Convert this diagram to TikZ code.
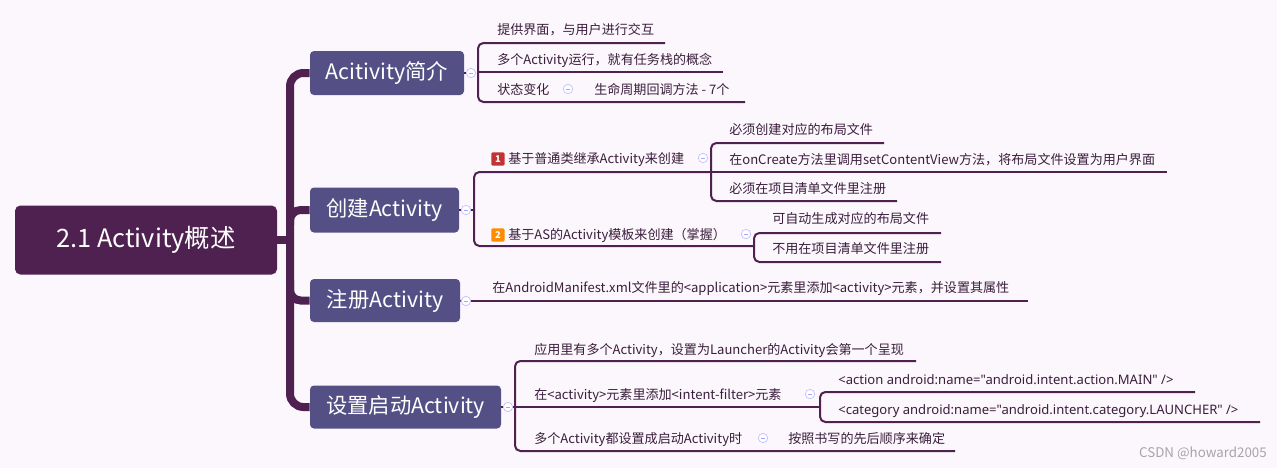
\documentclass[tikz,border=0pt]{standalone}
\usepackage{fontspec}
\setmainfont{Noto Sans CJK SC}
\newfontfamily\lat{Noto Sans}
\definecolor{bg}{HTML}{FCF7FC}
\definecolor{rootc}{HTML}{4F2150}
\definecolor{boxc}{HTML}{545086}
\definecolor{linec}{HTML}{4F2150}
\definecolor{txt}{HTML}{3A1E3C}
\begin{document}
\begin{tikzpicture}[x=0.75pt,y=-0.75pt,
  rootbox/.style={fill=rootc,rounded corners=4pt,text=white,font=\fontsize{19}{21}\selectfont,inner sep=0pt},
  mainbox/.style={fill=boxc,rounded corners=3pt,text=white,font=\fontsize{16}{18}\selectfont,inner sep=0pt},
  leaf/.style={anchor=base west,text=txt,font=\fontsize{9.8}{11}\selectfont,inner sep=0pt},
  sub/.style={draw=linec,line width=1.5pt,rounded corners=4pt},
  trunk/.style={draw=rootc,line width=6pt,rounded corners=10pt},
  tog/.style={circle,draw=blue!25,fill=white,line width=0.5pt,minimum size=7pt,inner sep=0pt,
    path picture={\draw[blue!35,line width=0.5pt] ([xshift=-1.8pt]path picture bounding box.center)--([xshift=1.8pt]path picture bounding box.center);}},
  badge/.style={rounded corners=1pt,text=white,font=\bfseries\fontsize{7}{8}\selectfont,minimum size=10pt,inner sep=0pt,anchor=west}]
\fill[bg] (0,0) rectangle (1277,468);
\useasboundingbox (0,0) rectangle (1277,468);
% root and main boxes
\node[rootbox,minimum width=262*0.75pt,minimum height=69*0.75pt] (root) at (146,240) {2.1 Activity概述};
\node[mainbox,minimum width=154*0.75pt,minimum height=44*0.75pt] (b1) at (387,73) {Acitivity简介};
\node[mainbox,minimum width=149*0.75pt,minimum height=45*0.75pt] (b2) at (384.5,210) {创建Activity};
\node[mainbox,minimum width=150*0.75pt,minimum height=43*0.75pt] (b3) at (385,300.5) {注册Activity};
\node[mainbox,minimum width=191*0.75pt,minimum height=43*0.75pt] (b4) at (405.5,407) {设置启动Activity};
% trunk
\draw[trunk] (b1.west) -- (290,73) -- (290,407) -- (b4.west);
\draw[rootc,line width=6pt] (root.east) -- (290,240);
\draw[rootc,line width=6pt,rounded corners=8pt] (290,225) |- (b2.west);
\draw[rootc,line width=6pt,rounded corners=8pt] (290,280) |- (b3.west);
% branch 1
\node[tog] (t1) at (471,73) {};
\draw[linec,line width=1.5pt] (b1.east) -- (t1);
\draw[sub] (665,43) -- (478,43) -- (478,102) -- (745,102);
\draw[sub] (478,72) -- (723,72);
\node[leaf] (l11) at (497,34) {提供界面，与用户进行交互};
\node[leaf] (l12) at (497,64) {多个Activity运行，就有任务栈的概念};
\node[leaf] (l13) at (497,94) {状态变化};
\node[tog] (t13) at (568,89) {};
\node[leaf] (l131) at (594,94) {生命周期回调方法 - 7个};
% branch 2
\node[tog] (t2) at (466,210) {};
\draw[linec,line width=1.5pt] (b2.east) -- (t2);
\draw[sub] (711,172) -- (474,172) -- (474,246) -- (754,246);
\draw[linec,line width=1.5pt] (t2) -- (474,210);
\node[badge,fill=red!70!black!80] (bd1) at (491,159) {1};
\node[leaf] (l21) at (508,163.5) {基于普通类继承Activity来创建};
\node[tog] (t21) at (703,158) {};
\draw[sub] (884,143) -- (711,143) -- (711,201) -- (897,201);
\draw[sub] (711,172) -- (1167,172);
\node[leaf] (l211) at (729,134) {必须创建对应的布局文件};
\node[leaf] (l212) at (729,164) {在onCreate方法里调用setContentView方法，将布局文件设置为用户界面};
\node[leaf] (l213) at (729,193) {必须在项目清单文件里注册};
\node[badge,fill=orange!90!yellow] (bd2) at (491,235) {2};
\node[leaf] (l22) at (508,239.5) {基于AS的Activity模板来创建（掌握）};
\node[tog] (t22) at (746,234) {};
\draw[sub] (941,233) -- (754,233) -- (754,262) -- (941,262);
\node[leaf] (l221) at (772,223) {可自动生成对应的布局文件};
\node[leaf] (l222) at (772,253) {不用在项目清单文件里注册};
% branch 3
\node[tog] (t3) at (466,301) {};
\draw[linec,line width=1.5pt] (b3.east) -- (t3);
\draw[sub] (t3.east) -- (1028,301);
\node[leaf] (l31) at (492,292) {在AndroidManifest.xml文件里的<application>元素里添加<activity>元素，并设置其属性};
% branch 4
\node[tog] (t4) at (508,407) {};
\draw[linec,line width=1.5pt] (b4.east) -- (t4);
\draw[sub] (916,361) -- (515,361) -- (515,451) -- (955,451);
\draw[sub] (t4.east) -- (820,407);
\node[leaf] (l41) at (534,354) {应用里有多个Activity，设置为Launcher的Activity会第一个呈现};
\node[leaf] (l42) at (534,399) {在<activity>元素里添加<intent-filter>元素};
\node[tog] (t42) at (810,394) {};
\draw[sub] (1195,392) -- (820,392) -- (820,422) -- (1260,422);
\node[leaf] (l421) at (838,384) {\lat <action android:name="android.intent.action.MAIN" />};
\node[leaf] (l422) at (838,414) {\lat <category android:name="android.intent.category.LAUNCHER" />};
\node[leaf] (l43) at (534,443) {多个Activity都设置成启动Activity时};
\node[tog] (t43) at (763,438) {};
\node[leaf] (l431) at (788,443) {按照书写的先后顺序来确定};
\node[anchor=base east,text=gray!70,font=\fontsize{10}{12}\selectfont,inner sep=0pt] (wm) at (1267,457) {CSDN @howard2005};
\end{tikzpicture}
\end{document}
